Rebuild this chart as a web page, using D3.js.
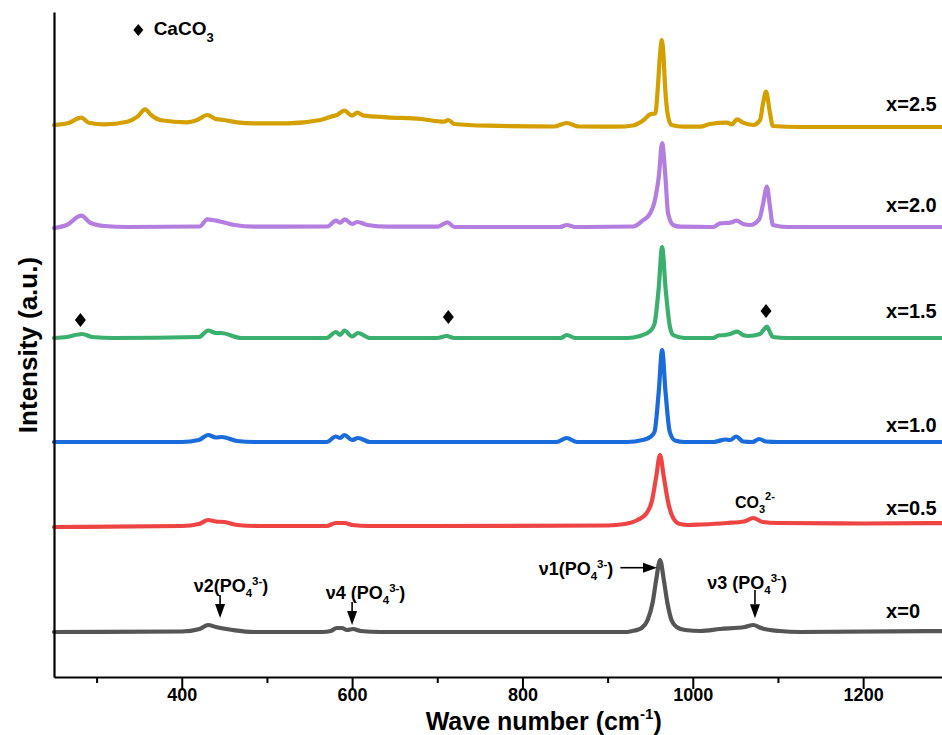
<!DOCTYPE html>
<html><head><meta charset="utf-8">
<script src="https://cdn.jsdelivr.net/npm/d3@7"></script>
<style>
body{margin:0;background:#fff}
svg{display:block}
text{font-family:Arial,"Liberation Sans",sans-serif;font-weight:bold;fill:#000}
</style>
</head><body>
<svg id="chart" width="942" height="735"></svg>
<script>
// ---------- data ----------
const seriesNames = ["x=0", "x=0.5", "x=1.0", "x=1.5", "x=2.0", "x=2.5"];
const offsets = [45, 150, 235, 339, 450, 550];           // vertical stacking offsets (a.u.)
const labelLift = [14, 12, 10, 20, 15, 16];              // label height above each baseline (a.u.)
const xTicks = [400, 600, 800, 1000, 1200];
const xMinorTicks = [300, 500, 700, 900, 1100, 1300];

// Raman spectra: [wave number (cm-1), intensity above baseline (a.u.)]
const specX00 = [[250,0],[400,0.5],[421,3],[431,7],[440,5],[460,2],[485,0],[565,0],[575,1],[582,4],[588,4],[594,2],[601,3],[610,1],[633,0],[923,0],[932,1.5],[940,4],[947,12],[953,30],[957,52],[961.6,72],[966,52],[970,30],[975,12],[981,5],[991,2],[1009,1],[1032,3],[1061,5],[1071,7],[1080,4],[1102,1],[1126,0],[1300,1]];
const specX05 = [[250,0],[400,1],[420,3],[431,7],[440,5.5],[450,5],[465,2],[490,1],[570,1],[581,4],[591,4],[600,2],[620,1],[700,1],[900,1.5],[920,3],[935,7],[945,13],[952,26],[957,50],[961.5,72],[966,50],[971,25],[977,9],[985,3],[995,2],[1010,2.5],[1040,4],[1060,5.5],[1071,9],[1082,5],[1100,4],[1200,3.5],[1300,4]];
const specX10 = [[250,0],[400,0],[420,2],[431,7],[440,4.5],[447,5],[465,1],[485,0],[570,0],[581,5.5],[586,4],[591,7],[600,2],[607,4],[621,0],[840,0],[852,4],[864,0],[923,0],[941,2],[950,5],[955,10],[960,50],[964,92],[968,50],[973,10],[979,1.5],[990,0],[1024,0],[1030,1],[1038,2.5],[1044,2],[1051,5.5],[1059,0.5],[1070,0],[1078,3],[1086,0.5],[1100,0],[1300,0]];
const specX15 = [[250,0],[265,1],[283,4],[295,1],[320,0],[420,1],[431,7.5],[440,5],[446,5],[470,0],[570,0],[581,6],[586,3],[591,7.5],[600,1.5],[607,5],[621,0],[700,0],[711,2],[720,0],[845,0],[852,3],[862,0],[923,0],[938,2],[950,7],[955,14],[960,50],[964,91],[968,50],[973,12],[977,3],[990,0],[1024,0],[1030,2.5],[1038,3],[1044,4],[1052,6.3],[1059,3],[1065,2],[1079,4],[1083,8],[1087,11.3],[1091,5],[1094,1],[1111,0],[1300,0]];
const specX20 = [[250,-1],[265,2],[282,11.3],[293,4],[309,1],[336,0],[421,0.5],[430,7.7],[446,5.3],[462,2],[485,0.3],[571,0.5],[581,6.3],[586,4.3],[591.5,7.7],[600,3],[606,5],[618,2],[641,0.3],[700,0.3],[712,4.7],[720,0],[844,0],[852,2],[862,0],[930,0.5],[942,7],[950,13.7],[955,25],[960.3,52],[964,84],[967.7,52],[971,13.7],[977,2],[985,0.3],[1024,0],[1032,3.7],[1044,4.3],[1051.6,6.3],[1059,3],[1067,2],[1078,7.7],[1082.5,23],[1087,40.3],[1090.7,20],[1094,2],[1111,0],[1300,0]];
const specX25 = [[250,2],[266,3.7],[282,9.3],[291,4.3],[309,2.7],[336,5.3],[348,10.3],[357,17.7],[364,12],[376,6.7],[406,4.7],[418,7],[430,12],[440,8],[450,7],[465,4.7],[485,3.7],[524,3.7],[563,7],[575,10.3],[582,12],[591,16.3],[600,11.3],[606,14.3],[614,11.3],[641,9.7],[681,8],[708,5.3],[713,7],[720,3],[759,1.3],[837,0.5],[852,4],[866,0.5],[911,0.3],[930,1.5],[942,6.7],[950,12.7],[956,13.7],[959,40],[961.6,73],[963.6,87],[965.5,73],[967.5,40],[971,10.3],[975,2],[989,0.3],[1009,0.3],[1020,3],[1040,4.3],[1046,2.7],[1052,7.7],[1059,4.3],[1071,2],[1079,7],[1082.5,23.7],[1086,35.3],[1090.7,13.7],[1094,1],[1126,0],[1300,0]];
const spectra = [specX00, specX05, specX10, specX15, specX20, specX25];

// CaCO3 markers on the x=1.5 spectrum: [wave number, height above baseline]
const caco3Marks = [[281, 18], [713, 21], [1086, 27]];

// ---------- styles ----------
const colors = ["#555555", "#EE4444", "#1A6BDB", "#3BB06E", "#B47EE0", "#D4A000"];

// ---------- layout ----------
const svg = d3.select("#chart");
const x = d3.scaleLinear().domain([250, 1300]).range([54, 948.3]);
const y = d3.scaleLinear().domain([0, 665]).range([677, 12]);

svg.append("rect").attr("width", 942).attr("height", 735).attr("fill", "#fff");

const line = d3.line().x(d => x(d[0])).curve(d3.curveMonotoneX);

spectra.forEach((s, i) => {
  svg.append("path")
    .datum(s)
    .attr("fill", "none")
    .attr("stroke", colors[i])
    .attr("stroke-width", 4.2)
    .attr("stroke-linejoin", "round")
    .attr("stroke-linecap", "round")
    .attr("d", line.y(d => y(d[1] + offsets[i])));
});

// series labels
seriesNames.forEach((n, i) => {
  svg.append("text")
    .attr("x", x(1227))
    .attr("y", y(offsets[i] + labelLift[i]))
    .attr("font-size", 20)
    .text(n);
});

// axes
const xAxis = svg.append("g").attr("transform", `translate(0,${y(0)})`)
  .call(d3.axisBottom(x).tickValues(xTicks).tickSize(12).tickSizeOuter(0).tickFormat(d3.format("d")));
xAxis.select(".domain").attr("stroke-width", 2.2);
xAxis.selectAll(".tick line").attr("stroke-width", 2);
xAxis.selectAll(".tick text").attr("font-size", 18).attr("font-family", "Arial, 'Liberation Sans', sans-serif").attr("font-weight", "bold").attr("dy", "0").attr("y", 24);
const xMinor = svg.append("g").attr("transform", `translate(0,${y(0)})`)
  .call(d3.axisBottom(x).tickValues(xMinorTicks).tickSize(6).tickSizeOuter(0).tickFormat(""));
xMinor.select(".domain").remove();
xMinor.selectAll(".tick line").attr("stroke-width", 2);

const yAxis = svg.append("g").attr("transform", `translate(${x(250)},0)`)
  .call(d3.axisLeft(y).tickValues([]).tickSizeOuter(0));
yAxis.select(".domain").attr("stroke-width", 2.2);

// axis titles
const xt = svg.append("text").attr("x", x(825)).attr("y", 729.5).attr("text-anchor", "middle").attr("font-size", 25);
xt.append("tspan").text("Wave number (cm");
xt.append("tspan").attr("font-size", 15).attr("dy", -11).text("-1");
xt.append("tspan").attr("dy", 11).text(")");

svg.append("text").attr("transform", `translate(37,${y(332)}) rotate(-90)`)
  .attr("text-anchor", "middle").attr("font-size", 26).text("Intensity (a.u.)");

// diamond helper
function diamond(cx, cy, w, h) {
  return `M${cx},${cy - h / 2}L${cx + w / 2},${cy}L${cx},${cy + h / 2}L${cx - w / 2},${cy}Z`;
}
caco3Marks.forEach(m => {
  svg.append("path").attr("d", diamond(x(m[0]), y(offsets[3] + m[1]), 11, 14)).attr("fill", "#000");
});
// legend
svg.append("path").attr("d", diamond(x(349), y(647), 10, 12)).attr("fill", "#000");
const lg = svg.append("text").attr("x", x(367)).attr("y", y(642)).attr("font-size", 19);
lg.append("tspan").text("CaCO");
lg.append("tspan").attr("font-size", 13).attr("dy", 7).text("3");

// annotations (PO4 modes)
function poLabel(wx, val, prefix) {
  const t = svg.append("text").attr("x", x(wx)).attr("y", y(val)).attr("font-size", 18);
  t.append("tspan").text(prefix + "(PO");
  t.append("tspan").attr("font-size", 11.5).attr("dy", 5).text("4");
  t.append("tspan").attr("font-size", 11.5).attr("dy", -12).text("3-");
  t.append("tspan").attr("dy", 7).text(")");
}
function arrow(x1, y1, x2, y2) {
  const ang = Math.atan2(y2 - y1, x2 - x1);
  const L = 14, W = 5;
  const bx = x2 - L * Math.cos(ang), by = y2 - L * Math.sin(ang);
  svg.append("line").attr("x1", x1).attr("y1", y1).attr("x2", bx).attr("y2", by)
    .attr("stroke", "#000").attr("stroke-width", 1.6);
  const px = -Math.sin(ang) * W, py = Math.cos(ang) * W;
  svg.append("path").attr("d", `M${x2},${y2}L${bx + px},${by + py}L${bx - px},${by - py}Z`).attr("fill", "#000");
}
poLabel(414, 85, "\u03BD2");
arrow(x(445), y(82), x(445), y(59));
poLabel(569, 77.7, "\u03BD4 ");
arrow(x(600), y(75), x(600), y(52));
poLabel(819, 102, "\u03BD1");
arrow(x(915), y(109.3), x(958), y(109.3));
poLabel(1017, 88, "\u03BD3 ");
arrow(x(1073), y(87), x(1073), y(58.7));

// CO3 2- label
const co = svg.append("text").attr("x", x(1049.5)).attr("y", y(169)).attr("font-size", 16);
co.append("tspan").text("CO");
co.append("tspan").attr("font-size", 11).attr("dy", 5).text("3");
co.append("tspan").attr("font-size", 11).attr("dy", -13).text("2-");
</script>
</body></html>
